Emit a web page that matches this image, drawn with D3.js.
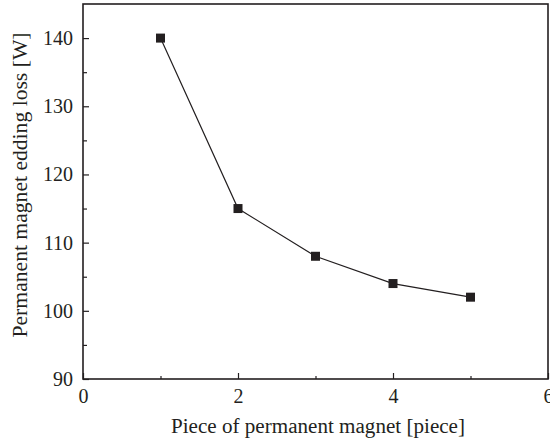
<!DOCTYPE html>
<html>
<head>
<meta charset="utf-8">
<script src="https://cdn.jsdelivr.net/npm/d3@7"></script>
<style>
  html, body { margin: 0; padding: 0; background: #fff; }
  svg { display: block; }
  text { font-family: "Liberation Serif", "DejaVu Serif", serif; fill: #231f20; }
</style>
</head>
<body>
<svg id="chart" width="550" height="443"></svg>
<script>
// Eddy-current loss in the permanent magnet versus number of magnet pieces
const pieces = [1, 2, 3, 4, 5];
const lossW = [140, 115, 108, 104, 102];
const xTicks = [0, 2, 4, 6];
const xMinorTicks = [1, 3, 5];
const yTicks = [90, 100, 110, 120, 130, 140];
const yMinorTicks = [95, 105, 115, 125, 135];

const margin = { left: 83, right: 2, top: 4, bottom: 64 };
const width = 550, height = 443;
const ink = "#231f20";
const serif = "Liberation Serif, DejaVu Serif, serif";

const svg = d3.select("#chart");

const x = d3.scaleLinear().domain([0, 6]).range([margin.left, width - margin.right]);
const y = d3.scaleLinear().domain([90, 145]).range([height - margin.bottom, margin.top]);

// Frame
svg.append("rect")
  .attr("x", x(0)).attr("y", y(145))
  .attr("width", x(6) - x(0)).attr("height", y(90) - y(145))
  .attr("fill", "none").attr("stroke", ink).attr("stroke-width", 1.6);

// Bottom axis: inward ticks
const xAxis = svg.append("g").attr("transform", `translate(0,${y(90)})`)
  .call(d3.axisBottom(x).tickValues(xTicks).tickFormat(d3.format("d")).tickSize(-6).tickPadding(10))
  .attr("font-family", serif).attr("font-size", 20);
xAxis.select(".domain").remove();
xAxis.selectAll("line").attr("stroke", ink).attr("stroke-width", 1.2);
xAxis.selectAll("text").attr("fill", ink);
svg.append("g").attr("transform", `translate(0,${y(90)})`)
  .call(d3.axisBottom(x).tickValues(xMinorTicks).tickFormat("").tickSize(-3))
  .call(g => g.select(".domain").remove())
  .selectAll("line").attr("stroke", ink).attr("stroke-width", 1.2);

// Left axis: inward ticks
const yAxis = svg.append("g").attr("transform", `translate(${x(0)},0)`)
  .call(d3.axisLeft(y).tickValues(yTicks).tickFormat(d3.format("d")).tickSize(-6).tickPadding(10))
  .attr("font-family", serif).attr("font-size", 20);
yAxis.select(".domain").remove();
yAxis.selectAll("line").attr("stroke", ink).attr("stroke-width", 1.2);
yAxis.selectAll("text").attr("fill", ink);
svg.append("g").attr("transform", `translate(${x(0)},0)`)
  .call(d3.axisLeft(y).tickValues(yMinorTicks).tickFormat("").tickSize(-4))
  .call(g => g.select(".domain").remove())
  .selectAll("line").attr("stroke", ink).attr("stroke-width", 1.2);

// Axis titles
svg.append("text")
  .attr("x", 318).attr("y", 433)
  .attr("text-anchor", "middle").style("font-size", "20px")
  .attr("textLength", 294).attr("lengthAdjust", "spacingAndGlyphs")
  .text("Piece of permanent magnet [piece]");
svg.append("text")
  .attr("transform", `translate(27,185) rotate(-90)`)
  .attr("text-anchor", "middle").style("font-size", "20px")
  .attr("textLength", 305).attr("lengthAdjust", "spacingAndGlyphs")
  .text("Permanent magnet edding loss [W]");

// Series line and square markers
const data = pieces.map((p, i) => ({ p, v: lossW[i] }));
svg.append("path").datum(data)
  .attr("fill", "none").attr("stroke", ink).attr("stroke-width", 1.2)
  .attr("d", d3.line().x(d => x(d.p)).y(d => y(d.v)));
const s = 9;
svg.selectAll("rect.pt").data(data).join("rect").attr("class", "pt")
  .attr("x", d => x(d.p) - s / 2).attr("y", d => y(d.v) - s / 2)
  .attr("width", s).attr("height", s).attr("fill", ink);
</script>
</body>
</html>
